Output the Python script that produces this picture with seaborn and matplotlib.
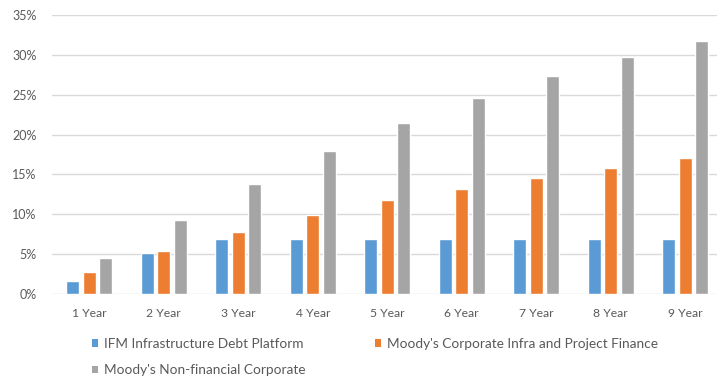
import matplotlib
matplotlib.use("Agg")
import matplotlib.pyplot as plt
import matplotlib.ticker as mticker
from matplotlib.patches import Patch
import seaborn as sns
import pandas as pd

categories = ["1 Year", "2 Year", "3 Year", "4 Year", "5 Year", "6 Year", "7 Year", "8 Year", "9 Year"]
ifm = [1.65, 5.2, 6.9, 6.9, 6.9, 6.9, 6.9, 6.9, 6.9]
moodys_infra = [2.8, 5.4, 7.8, 9.9, 11.8, 13.2, 14.5, 15.8, 17.0]
moodys_nonfin = [4.55, 9.3, 13.8, 17.9, 21.5, 24.6, 27.3, 29.7, 31.8]
series_names = ["IFM Infrastructure Debt Platform",
                "Moody's Corporate Infra and Project Finance",
                "Moody's Non-financial Corporate"]
colors = ["#5B9BD5", "#ED7D31", "#A5A5A5"]

rows = []
for name, vals in zip(series_names, [ifm, moodys_infra, moodys_nonfin]):
    for c, v in zip(categories, vals):
        rows.append({"cat": c, "series": name, "value": v / 100})
df = pd.DataFrame(rows)

sns.set_theme(style="white")
plt.rcParams["font.family"] = ["Lato", "DejaVu Sans"]
text_color = "#595959"

fig = plt.figure(figsize=(7.17, 3.8), dpi=100)
ax = fig.add_axes([52 / 717, 1 - 294 / 380, 1 - 52 / 717, (294 - 15) / 380])

sns.barplot(data=df, x="cat", y="value", hue="series", hue_order=series_names,
            palette=colors, width=0.66, gap=0.2, saturation=1, ax=ax, legend=False,
            zorder=3)

ax.set_ylim(0, 0.35)
ax.set_xlim(-0.5, (717 - 52) / 74.5 - 0.5)
ax.yaxis.set_major_locator(mticker.MultipleLocator(0.05))
ax.yaxis.set_major_formatter(mticker.PercentFormatter(1.0, decimals=0))
ax.grid(axis="y", color="#D9D9D9", linewidth=1.0, zorder=0)
ax.set_axisbelow(True)
for s in ax.spines.values():
    s.set_visible(False)
ax.set_xlabel("")
ax.set_ylabel("")
ax.tick_params(axis="y", length=0, pad=11, labelsize=9, labelcolor=text_color)
ax.tick_params(axis="x", length=0, pad=10, labelsize=8.7, labelcolor=text_color)

order = [0, 2, 1]
handles = [Patch(facecolor=colors[i], edgecolor="none") for i in order]
labels = [series_names[i] for i in order]
leg = fig.legend(handles, labels, ncol=2, loc="upper left",
                 bbox_to_anchor=(92 / 717, 1 - 338 / 380),
                 borderaxespad=0, borderpad=0,
                 frameon=False, fontsize=9.8, handlelength=0.45, handleheight=0.45,
                 handletextpad=0.4, columnspacing=5.15, labelspacing=1.05,
                 labelcolor=text_color)

fig.savefig("out.png", dpi=100)
